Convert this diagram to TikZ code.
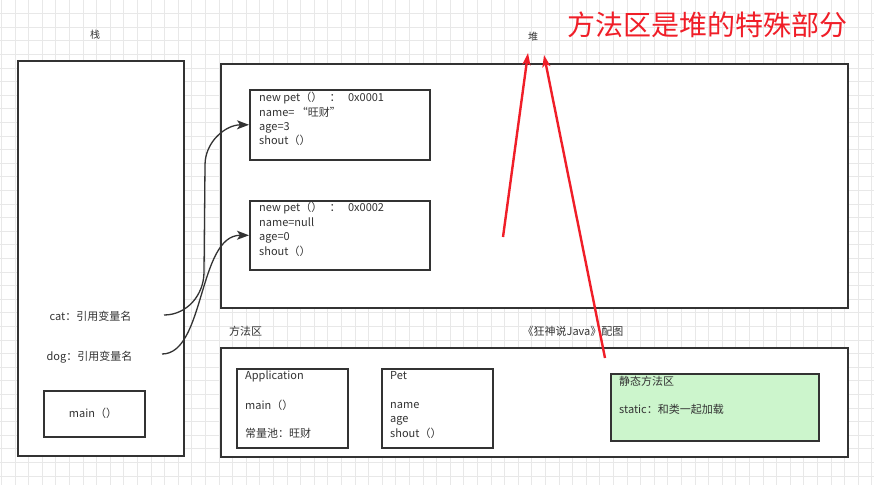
\documentclass[tikz,border=0pt]{standalone}
\usepackage{fontspec}
\setmainfont{Noto Sans CJK SC}
\usetikzlibrary{arrows.meta}
\definecolor{boxc}{HTML}{333333}
\definecolor{txtc}{HTML}{333333}
\definecolor{gridc}{HTML}{E8E8E8}
\definecolor{redc}{HTML}{F01E28}
\definecolor{greenc}{HTML}{CCF5CC}
\tikzset{
  frame/.style={draw=boxc, line width=1.6pt, inner sep=0, anchor=north west},
  txt/.style={anchor=base west, inner sep=0, font=\fontsize{11}{13}\selectfont, text=txtc},
  ctxt/.style={txt, anchor=base},
  small/.style={anchor=base, inner sep=0, font=\fontsize{10}{12}\selectfont, text=txtc},
  ref/.style={draw=boxc, line width=1.3pt, -{Stealth[length=12pt,width=9pt,inset=3pt]}},
  redarrow/.style={draw=redc, line width=2.4pt, -{Stealth[length=12pt,width=8pt,inset=3pt]}}
}
\begin{document}
\begin{tikzpicture}[x=1pt,y=-1pt]
\useasboundingbox (0,0) rectangle (874,485);
\fill[white] (0,0) rectangle (874,485);
% grid
\foreach \i in {0,...,64} \draw[gridc, line width=0.8pt] ({1.4+13.6*\i},0) -- ++(0,485);
\foreach \j in {1,...,35} \draw[gridc, line width=0.8pt] (0,{13.6*\j}) -- ++(874,0);

% titles
\node[small] (stacklbl) at (95,38) {栈};
\node[small] (heaplbl) at (533,40) {堆};
\node[anchor=base, inner sep=0, font=\fontsize{28}{30}\selectfont, text=redc] (title) at (707.5,35) {方法区是堆的特殊部分};

% stack
\node[frame, fill=white, minimum width=166pt, minimum height=395pt] (stack) at (17,60) {};
\node[ctxt] (cat) at (90.5,320) {cat：引用变量名};
\node[ctxt] (dog) at (89.5,360) {dog：引用变量名};
\node[frame, minimum width=101pt, minimum height=46pt] (mainbox) at (43,390) {};
\node[ctxt] (maintxt) at (93,417) {main（）};

% heap
\node[frame, fill=white, minimum width=627pt, minimum height=244pt] (heap) at (220,63) {};
\node[frame, minimum width=180pt, minimum height=70pt] (obj1) at (249,89) {};
\node[txt] (o1a) at (259,101) {new pet（）\ \ \ ：\ \ \ 0x0001};
\node[txt] (o1b) at (259,116) {name=\ “旺财”};
\node[txt] (o1c) at (259,130) {age=3};
\node[txt] (o1d) at (259,144) {shout（）};
\node[frame, minimum width=180pt, minimum height=69pt] (obj2) at (249,200) {};
\node[txt] (o2a) at (259,211) {new pet（）\ \ \ ：\ \ \ 0x0002};
\node[txt] (o2b) at (259,226) {name=null};
\node[txt] (o2c) at (259,240) {age=0};
\node[txt] (o2d) at (259,255) {shout（）};

% method area
\node[txt] (malbl) at (229,335) {方法区};
\node[ctxt] (credit) at (573,335) {《狂神说Java》配图};
\node[frame, fill=white, minimum width=627pt, minimum height=109pt] (method) at (220,347) {};
\node[frame, minimum width=111pt, minimum height=79pt] (app) at (236,368) {};
\node[txt] (appa) at (245,379) {Application};
\node[txt] (appb) at (245,409) {main（）};
\node[txt] (appc) at (245,437) {常量池：旺财};
\node[frame, minimum width=111pt, minimum height=79pt] (pet) at (381,368) {};
\node[txt] (peta) at (390,379) {Pet};
\node[txt] (petb) at (390,408) {name};
\node[txt] (petc) at (390,422) {age};
\node[txt] (petd) at (390,437) {shout（）};
\node[frame, fill=greenc, minimum width=208pt, minimum height=67pt] (static) at (610,373) {};
\node[txt] (sta) at (619,385) {静态方法区};
\node[txt] (stb) at (619,413) {static：和类一起加载};

% references
\coordinate (catend) at (164,315);
\coordinate (dogend) at (162,354);
\draw[ref] (catend) to[out=0,in=-90] (204,272) -- (205,165) to[out=90,in=180] (obj1.west);
\draw[ref] (dogend) .. controls (205,354) and (198,235) .. (obj2.west);

% red arrows
\coordinate (r1s) at (503,237);
\coordinate (r1e) at (528,53);
\coordinate (r2s) at (605,358);
\coordinate (r2e) at (544,55);
\draw[redarrow] (r1s) -- (r1e);
\draw[redarrow] (r2s) -- (r2e);
\end{tikzpicture}
\end{document}
